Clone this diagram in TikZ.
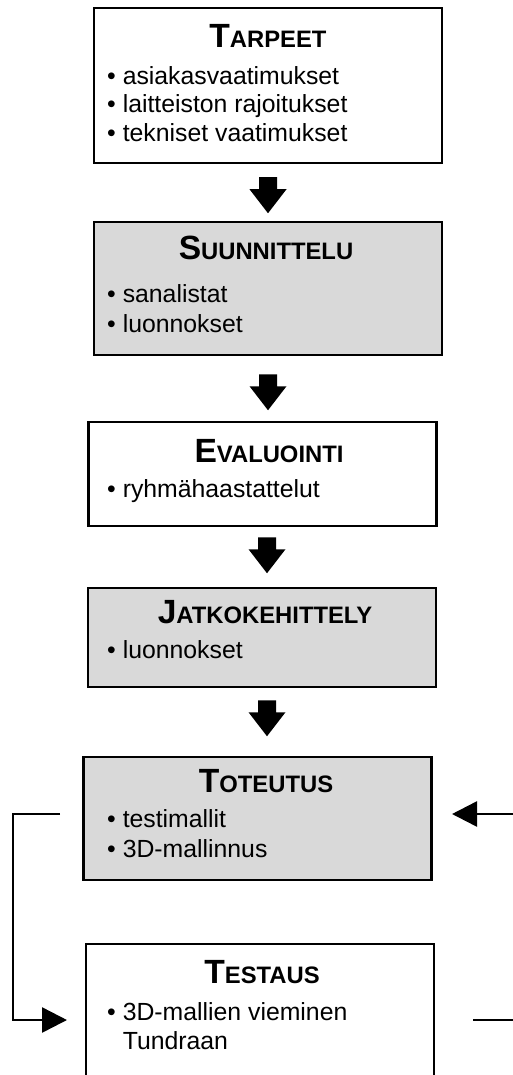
\documentclass[tikz,border=0pt]{standalone}
\usepackage{fontspec}
\setmainfont{Liberation Sans}
\usetikzlibrary{arrows.meta}
\definecolor{vaihegray}{RGB}{217,217,217}
\newcommand{\vaiheotsikko}[2]{{\fontsize{33.6}{34}\selectfont #1}{\fontsize{23.8}{24}\selectfont #2}}

\begin{document}
\begin{tikzpicture}[x=1pt, y=-1pt]
\tikzstyle{vaihe}=[draw, line width=2.5pt, minimum width=348pt, inner sep=0pt];
\tikzstyle{harmaa}=[vaihe, fill=vaihegray];
\tikzstyle{otsikko}=[anchor=base, inner sep=0pt, font=\bfseries];
\tikzstyle{kohta}=[anchor=base west, inner sep=0pt, font=\fontsize{24.8}{29}\selectfont];
\tikzstyle{nuoli}=[fill, to path={(\tikztostart) ++(-9,0) -- ++(18,0) -- ++(0,12) -- ++(9.5,0) -- (\tikztotarget) -- ++(-18.5,-24) -- ++(9.5,0) -- cycle}];
\tikzstyle{paluu}=[line width=2.5pt, -{Triangle[width=25pt, length=25pt]}];
\useasboundingbox (0,0) rectangle (512,1075);
% vaiheet
\node[vaihe, minimum height=155pt] (v1) at (268, 85.5) {};
\node[harmaa, minimum height=133pt] (v2) at (268, 288.5) {};
\node[vaihe, minimum height=104pt] (v3) at (262.5, 474) {};
\node[harmaa, minimum height=99pt] (v4) at (262, 637.5) {};
\node[harmaa, minimum height=123pt] (v5) at (257.5, 818.5) {};
\node[vaihe, minimum height=151pt] (v6) at (260, 1019.5) {};
% otsikot
\node[otsikko] (o1) at (268, 48) {\vaiheotsikko{T}{ARPEET}};
\node[otsikko] (o2) at (266, 259) {\vaiheotsikko{S}{UUNNITTELU}};
\node[otsikko] (o3) at (269, 462) {\vaiheotsikko{E}{VALUOINTI}};
\node[otsikko] (o4) at (265, 623) {\vaiheotsikko{J}{ATKOKEHITTELY}};
\node[otsikko] (o5) at (266, 792) {\vaiheotsikko{T}{OTEUTUS}};
\node[otsikko] (o6) at (262, 983) {\vaiheotsikko{T}{ESTAUS}};
% kohdat
\node[kohta] (k1a) at (107, 85) {\textbullet\ asiakasvaatimukset};
\node[kohta] (k1b) at (107, 113) {\textbullet\ laitteiston rajoitukset};
\node[kohta] (k1c) at (107, 142) {\textbullet\ tekniset vaatimukset};
\node[kohta] (k2a) at (107, 302) {\textbullet\ sanalistat};
\node[kohta] (k2b) at (107, 332) {\textbullet\ luonnokset};
\node[kohta] (k3a) at (107, 497) {\textbullet\ ryhmähaastattelut};
\node[kohta] (k4a) at (107, 658) {\textbullet\ luonnokset};
\node[kohta] (k5a) at (107, 827) {\textbullet\ testimallit};
\node[kohta] (k5b) at (107, 857) {\textbullet\ 3D-mallinnus};
\node[kohta] (k6a) at (107, 1020) {\textbullet\ 3D-mallien vieminen};
\node[kohta] (k6b) at (107, 1049) {\hphantom{\textbullet\ }Tundraan};
% nuolet
\path[nuoli] ([yshift=-13pt]v1.south) to ++(0,36);
\path[nuoli] ([yshift=-18pt]v2.south) to ++(0,36);
\path[nuoli] ([shift={(4.5,10)}]v3.south) to ++(0,36);
\path[nuoli] ([shift={(5,12)}]v4.south) to ++(0,36);
% palaute
\coordinate (p1) at (60, 814);
\coordinate (p2) at (67, 1020);
\coordinate (p3) at (514, 814);
\coordinate (p4) at (452, 814);
\coordinate (p5) at (473, 1020);
\coordinate (p6) at (514, 1020);
\draw[paluu] (p1) -- ++(-47,0) |- (p2);
\draw[paluu] (p3) -- (p4);
\draw[line width=2.5pt] (p5) -- (p6);
\end{tikzpicture}
\end{document}
